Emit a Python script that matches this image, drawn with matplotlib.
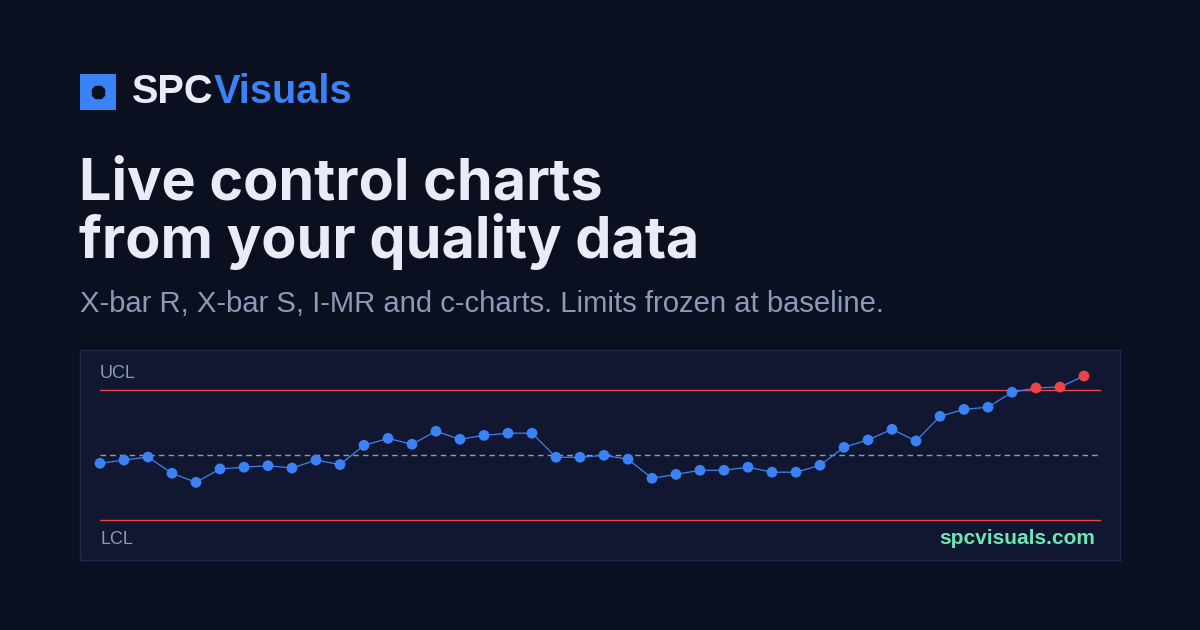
import matplotlib
matplotlib.use("Agg")
import matplotlib.pyplot as plt
from matplotlib.patches import Rectangle

# colours
BG = "#0b1020"
PANEL = "#111730"
BORDER = "#1f2a4a"
BLUE = "#3b82f6"
RED = "#ef4444"
TITLE = "#e8ecf6"
MUTED = "#8b9ab8"
GREEN = "#6ee7b7"

# data: subgroup means, limits frozen at baseline
samples = list(range(1, 43))
xbar = [24.963, 24.978, 24.992, 24.917, 24.875, 24.937, 24.945, 24.952, 24.941, 24.978,
        24.957, 25.046, 25.078, 25.051, 25.111, 25.074, 25.092, 25.102, 25.102, 24.991,
        24.991, 25.000, 24.982, 24.894, 24.912, 24.931, 24.931, 24.945, 24.922, 24.922,
        24.954, 25.037, 25.071, 25.120, 25.066, 25.180, 25.212, 25.222, 25.291, 25.311,
        25.315, 25.366]
center = 25.00
ucl = 25.30
lcl = 24.70

W, H = 1200, 630
fig = plt.figure(figsize=(12, 6.3), dpi=100)
fig.patch.set_facecolor(BG)


def fx(x):
    return x / W


def fy(y):
    return 1 - y / H


# logo
fig.patches.append(Rectangle((fx(80), fy(110)), 36 / W, 36 / H, transform=fig.transFigure,
                             facecolor=BLUE, edgecolor="none"))
fig.lines.append(plt.Line2D([fx(98)], [fy(92)], transform=fig.transFigure, marker="8",
                            markersize=10, color=BG, linestyle="none"))
t1 = fig.text(fx(132), fy(103), "SPC", color=TITLE, fontsize=28.6, fontweight="bold",
              family="Liberation Sans", va="baseline")
fig.canvas.draw()
bb = t1.get_window_extent()
fig.text(bb.x1 / W, fy(103), "Visuals", color=BLUE, fontsize=28.6, fontweight="bold",
         family="Liberation Sans", va="baseline")

# headline
fig.text(fx(79), fy(200), "Live control charts", color=TITLE, fontsize=41.4,
         fontweight="bold", family="Inter", va="baseline")
fig.text(fx(79), fy(258), "from your quality data", color=TITLE, fontsize=41.4,
         fontweight="bold", family="Inter", va="baseline")
fig.text(fx(80), fy(312), "X-bar R, X-bar S, I-MR and c-charts. Limits frozen at baseline.",
         color=MUTED, fontsize=21.1, family="Liberation Sans", va="baseline")

# chart panel
ax = fig.add_axes([fx(80), fy(560), 1040 / W, 210 / H])
ax.set_facecolor(PANEL)
for s in ax.spines.values():
    s.set_color(BORDER)
    s.set_linewidth(1)
ax.set_xticks([])
ax.set_yticks([])
ax.set_xlim(1 - 20 / 24, 1 + 1020 / 24)
ax.set_ylim(center - 104.7 / 216.67, center + 105.3 / 216.67)

lo, hi = 20 / 1040, 1020 / 1040
ax.axhline(ucl, xmin=lo, xmax=hi, color=RED, linewidth=1)
ax.axhline(lcl, xmin=lo, xmax=hi, color=RED, linewidth=1)
ax.axhline(center, xmin=lo, xmax=hi, color=MUTED, linewidth=1, dashes=(4, 3))

ax.plot(samples, xbar, color=BLUE, linewidth=0.9, zorder=3)
cols = [RED if v > ucl else BLUE for v in xbar]
ax.scatter(samples, xbar, s=60, c=cols, zorder=4, clip_on=False, linewidths=0)

fig.text(fx(100), fy(378), "UCL", color=MUTED, fontsize=13, family="Liberation Sans",
         va="baseline")
fig.text(fx(100), fy(544), "LCL", color=MUTED, fontsize=13, family="Liberation Sans",
         va="baseline")
fig.text(fx(1095), fy(544), "spcvisuals.com", color=GREEN, fontsize=15,
         fontweight="bold", family="Liberation Sans", ha="right", va="baseline")

fig.savefig("out.png", dpi=100, facecolor=BG)
